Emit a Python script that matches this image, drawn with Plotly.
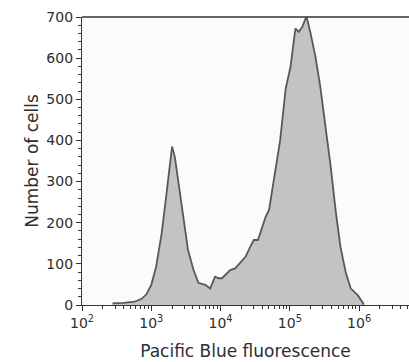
import plotly.graph_objects as go

# log10 of fluorescence and cell counts
log_fluor = [2.44, 2.6, 2.76, 2.86, 2.93, 3.0, 3.07, 3.15, 3.22, 3.27, 3.30, 3.34, 3.39, 3.46,
             3.53, 3.61, 3.68, 3.78, 3.85, 3.92, 3.97, 4.02, 4.07, 4.14, 4.21, 4.28, 4.36,
             4.43, 4.48, 4.54, 4.60, 4.65, 4.70, 4.74, 4.79, 4.86, 4.94, 5.01, 5.08, 5.13,
             5.18, 5.24, 5.30, 5.37, 5.44, 5.52, 5.59, 5.66, 5.73, 5.81, 5.88, 5.98, 6.03, 6.07]
counts = [4, 5, 8, 15, 26, 49, 93, 174, 271, 352, 385, 360, 303, 214,
          134, 85, 54, 49, 40, 69, 65, 65, 73, 85, 89, 101, 117,
          142, 158, 158, 190, 214, 231, 271, 320, 400, 526, 579, 672, 664,
          676, 702, 660, 603, 530, 433, 336, 231, 142, 77, 40, 24, 12, 1]

x_tick_vals = [1e2, 1e3, 1e4, 1e5, 1e6]
x_tick_text = ["10<sup>2</sup>", "10<sup>3</sup>", "10<sup>4</sup>", "10<sup>5</sup>", "10<sup>6</sup>"]
y_tick_vals = [0, 100, 200, 300, 400, 500, 600, 700]

x_vals = [10 ** v for v in log_fluor]
minor_x = [m * 10 ** d for d in range(2, 7) for m in range(2, 10)]

fig = go.Figure()
fig.add_trace(go.Scatter(
    x=x_vals, y=counts, mode="lines", fill="tozeroy",
    fillcolor="#c3c3c3", line=dict(color="#5e5655", width=1.8),
    showlegend=False, hoverinfo="skip"))

FONT = "DejaVu Sans, Liberation Sans, Arial, sans-serif"
TXT = "#2e2e2e"
fig.update_layout(
    width=409, height=362,
    margin=dict(l=82, r=0, t=17, b=57),
    paper_bgcolor="white", plot_bgcolor="#fafbfb",
    font=dict(family=FONT, color=TXT),
    shapes=[dict(type="line", xref="paper", yref="paper", x0=0, x1=1, y0=1, y1=1,
                 line=dict(color="#333333", width=1.3))],
)
fig.update_xaxes(
    type="log", range=[2, 6.72],
    tickmode="array", tickvals=x_tick_vals, ticktext=x_tick_text,
    ticks="outside", ticklen=5, tickwidth=1, tickcolor="#333333",
    showline=True, linecolor="#333333", linewidth=1.3,
    showgrid=False, zeroline=False,
    tickfont=dict(family=FONT, size=14, color=TXT),
    minor=dict(tickmode="array", tickvals=minor_x, ticks="outside", ticklen=3,
               tickcolor="#333333", showgrid=False),
    title=dict(text="Pacific Blue fluorescence", font=dict(family=FONT, size=17, color=TXT), standoff=15),
)
fig.update_yaxes(
    range=[0, 700],
    tickmode="array", tickvals=y_tick_vals,
    ticks="outside", ticklen=5, tickwidth=1, tickcolor="#333333",
    showline=True, linecolor="#333333", linewidth=1.3,
    showgrid=False, zeroline=False,
    tickfont=dict(family=FONT, size=14, color=TXT),
    minor=dict(dtick=20, ticks="outside", ticklen=3, tickcolor="#333333", showgrid=False),
    title=dict(text="Number of cells", font=dict(family=FONT, size=17, color=TXT), standoff=3),
)
fig.write_html("out.html")
